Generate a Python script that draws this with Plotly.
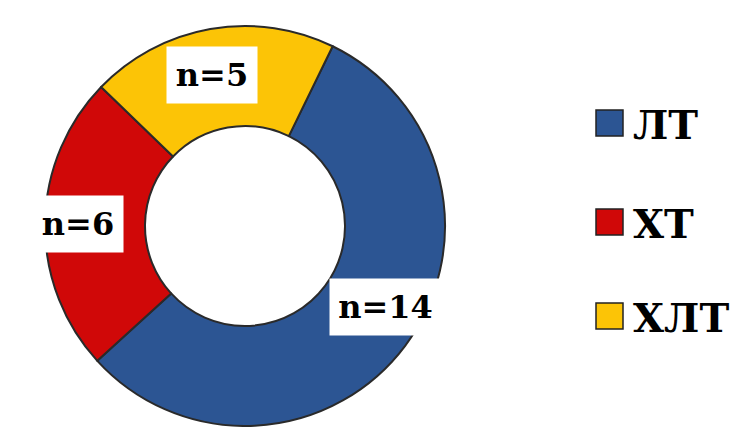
import plotly.graph_objects as go

# ---- data ----
categories = ["ЛТ", "ХТ", "ХЛТ"]
counts = [14, 6, 5]
label_texts = [f"n={v}" for v in counts]

# ---- styles / layout helpers ----
W, H = 736, 427
colors = ["#2C5593", "#D00808", "#FCC406"]
FONT = "DejaVu Serif"

# pixel centres of the value boxes (layout only)
label_pos = [(385, 307), (78, 224), (212, 75)]
label_w = [99, 78, 78]
legend_y = [123, 222, 316]

def px(x):
    return x / W

def py(y):
    return 1 - y / H

fig = go.Figure()
fig.add_trace(go.Pie(
    labels=categories,
    values=counts,
    hole=0.5,
    sort=False,
    direction="clockwise",
    rotation=26,
    marker=dict(colors=colors, line=dict(color="#2a2a2a", width=2)),
    textinfo="none",
    hoverinfo="label+value",
    showlegend=False,
    domain=dict(x=[px(45), px(445)], y=[py(426), py(26)]),
))

annotations = []
for txt, (cx, cy), w in zip(label_texts, label_pos, label_w):
    annotations.append(dict(
        x=px(cx), y=py(cy), xref="paper", yref="paper",
        text="<b>" + txt + "</b>", showarrow=False, xanchor="center", yanchor="middle",
        font=dict(family=FONT, size=32, color="black"),
        bgcolor="white", width=w, height=44, borderpad=6,
    ))

shapes = []
for cat, col, yc in zip(categories, colors, legend_y):
    shapes.append(dict(
        type="rect", xref="paper", yref="paper",
        x0=px(596), x1=px(623), y0=py(yc + 13), y1=py(yc - 13),
        fillcolor=col, line=dict(color="#222222", width=1.5),
    ))
    annotations.append(dict(
        x=px(631), y=py(yc + 1), xref="paper", yref="paper",
        text="<b>" + cat + "</b>", showarrow=False, xanchor="left", yanchor="middle",
        font=dict(family=FONT, size=40, color="black"),
    ))

fig.update_layout(
    width=W, height=H,
    margin=dict(l=0, r=0, t=0, b=0),
    paper_bgcolor="white",
    plot_bgcolor="white",
    font=dict(family=FONT),
    annotations=annotations,
    shapes=shapes,
)

fig.write_html(
    "out.html",
    config={"displayModeBar": False},
    post_script="document.body.style.margin='0';document.body.style.padding='0';",
)
